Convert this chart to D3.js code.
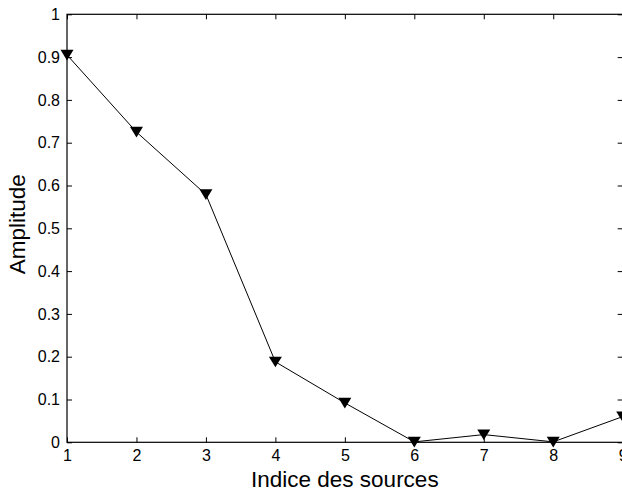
<!DOCTYPE html>
<html><head><meta charset="utf-8">
<script src="https://cdn.jsdelivr.net/npm/d3@7/dist/d3.min.js"></script>
<style>body{margin:0;background:#fff}svg{display:block}text{font-family:"Liberation Sans",Arial,Helvetica,sans-serif;fill:#000}</style>
</head><body><svg id="c" width="622" height="493"></svg>
<script>
const sources = [1, 2, 3, 4, 5, 6, 7, 8, 9];
const amplitude = [0.905, 0.725, 0.579, 0.188, 0.092, 0.001, 0.018, 0.001, 0.06];
const xTicks = [1, 2, 3, 4, 5, 6, 7, 8, 9];
const yTicks = [0, 0.1, 0.2, 0.3, 0.4, 0.5, 0.6, 0.7, 0.8, 0.9, 1];
const xLabel = "Indice des sources";
const yLabel = "Amplitude";

const svg = d3.select("#c");
const L = 67, R = 622.7, T = 14.3, B = 442.3;
const x = d3.scaleLinear().domain([1, 9]).range([L, R]);
const y = d3.scaleLinear().domain([0, 1]).range([B, T]);
const tl = 5;

// box
svg.append("rect").attr("x", L).attr("y", T).attr("width", R - L).attr("height", B - T)
  .attr("fill", "none").attr("stroke", "#000").attr("stroke-width", 1.2);

// bottom axis
svg.append("g").attr("transform", `translate(0,${B})`)
  .call(d3.axisBottom(x).tickValues(xTicks).tickSize(-tl).tickPadding(7).tickFormat(d3.format("d")));
// top ticks
svg.append("g").attr("transform", `translate(0,${T})`)
  .call(d3.axisTop(x).tickValues(xTicks).tickSize(-tl).tickFormat(""));
// left axis
svg.append("g").attr("transform", `translate(${L},0)`)
  .call(d3.axisLeft(y).tickValues(yTicks).tickSize(-tl).tickPadding(7).tickFormat(d => String(+d.toFixed(1))));
// right ticks
svg.append("g").attr("transform", `translate(${R},0)`)
  .call(d3.axisRight(y).tickValues(yTicks).tickSize(-tl).tickFormat(""));

svg.selectAll(".domain").remove();
svg.selectAll(".tick line").attr("stroke", "#000").attr("stroke-width", 1);
svg.selectAll(".tick text").attr("font-size", 16).attr("fill", "#000")
  .style("font-family", '"Liberation Sans",Arial,sans-serif');

// line
svg.append("path").datum(sources.map((s, i) => [s, amplitude[i]]))
  .attr("fill", "none").attr("stroke", "#000").attr("stroke-width", 1)
  .attr("d", d3.line().x(d => x(d[0])).y(d => y(d[1])));

// markers (downward triangles)
const s = 6.5;
svg.append("g").selectAll("path").data(sources.map((s, i) => [s, amplitude[i]])).join("path")
  .attr("transform", d => `translate(${x(d[0])},${y(d[1])})`)
  .attr("d", `M${-s},${-s*0.8}L${s},${-s*0.8}L0,${s*0.85}Z`)
  .attr("fill", "#000");

// labels
svg.append("text").attr("x", (L + R) / 2).attr("y", 487).attr("text-anchor", "middle")
  .attr("font-size", 22.5).text(xLabel);
svg.append("text").attr("transform", `translate(25,${(T + B) / 2 - 4}) rotate(-90)`)
  .attr("text-anchor", "middle").attr("font-size", 22.5).text(yLabel);
</script></body></html>
